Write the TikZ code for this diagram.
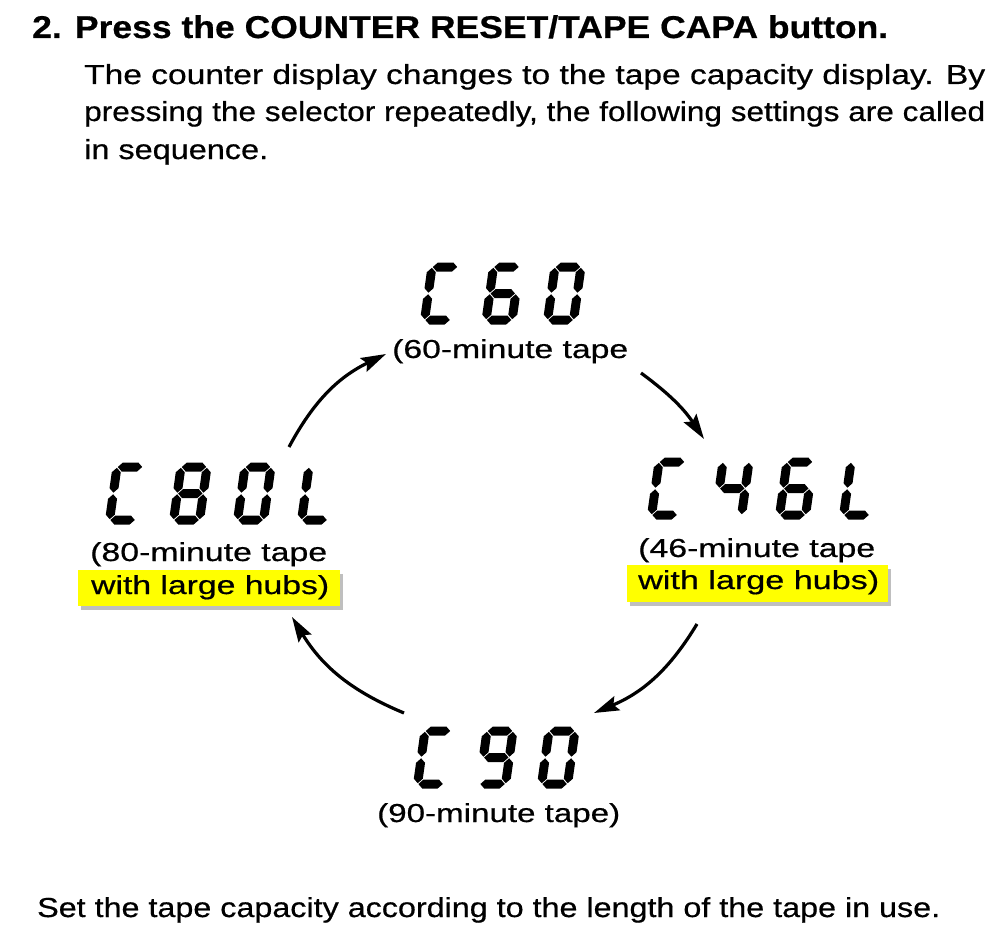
\documentclass[tikz,border=0pt]{standalone}
\usepackage{fontspec}
\setmainfont{Liberation Sans}[FakeBold=0.5]
\usetikzlibrary{arrows.meta,shadows}
\newcommand\hseg[3]{\fill ({#1},{#3}) -- ({#1+4.5},{#3-4.5}) -- ({#2-4.5},{#3-4.5}) -- ({#2},{#3}) -- ({#2-4.5},{#3+4.5}) -- ({#1+4.5},{#3+4.5}) -- cycle;}
\newcommand\vseg[3]{\fill ({#1},{#2}) -- ({#1+4.5},{#2+4.5}) -- ({#1+4.5},{#3-4.5}) -- ({#1},{#3}) -- ({#1-4.5},{#3-4.5}) -- ({#1-4.5},{#2+4.5}) -- cycle;}
\newcommand\sgA{\hseg{0.8}{25.2}{0}}
\newcommand\sgB{\vseg{26}{0.8}{25.7}}
\newcommand\sgC{\vseg{26}{27.3}{52.2}}
\newcommand\sgD{\hseg{0.8}{25.2}{53}}
\newcommand\sgE{\vseg{0}{27.3}{52.2}}
\newcommand\sgF{\vseg{0}{0.8}{25.7}}
\newcommand\sgG{\hseg{0.8}{25.2}{26.5}}
\newcommand\digC{\sgA\sgD\sgE\sgF}
\newcommand\digL{\sgD\sgE\sgF}
\newcommand\digZ{\sgA\sgB\sgC\sgD\sgE\sgF}
\newcommand\digFour{\sgB\sgC\sgF\sgG}
\newcommand\digSix{\sgA\sgC\sgD\sgE\sgF\sgG}
\newcommand\digEight{\sgA\sgB\sgC\sgD\sgE\sgF\sgG}
\newcommand\digNine{\sgA\sgB\sgC\sgD\sgF\sgG}
\newcommand\dgt[3]{\begin{scope}[shift={(#1,#2)},xslant=0.14]#3\end{scope}}
\tikzset{
  body/.style={anchor=base west, inner sep=0pt, font=\fontsize{27.5}{31}\selectfont},
  ttl/.style={anchor=base west, inner sep=0pt, font=\bfseries\fontsize{31.5}{35}\selectfont},
  lbl/.style={anchor=base west, inner sep=0pt, font=\fontsize{26}{30}\selectfont},
  hlbox/.style={anchor=north west, inner sep=0pt, fill={rgb,255:red,255;green,255;blue,0},
     drop shadow={shadow xshift=3pt, shadow yshift=-4pt, fill=black!50}},
  arr/.style={line width=3.2pt, -{Stealth[length=25pt,width=15pt,inset=4pt]}}
}
\begin{document}
\begin{tikzpicture}[x=1pt,y=-1pt]
\fill[white] (0,0) rectangle (1008,928);
\useasboundingbox (0,0) rectangle (1008,928);
% texts
\node[ttl] (title) at (32,38) {\resizebox{856pt}{\height}{2. Press the COUNTER RESET/TAPE CAPA button.}};
\node[body] (l1) at (84,84) {\resizebox{901pt}{\height}{The counter display changes to the tape capacity display. By}};
\node[body] (l2) at (84,121) {\resizebox{901pt}{\height}{pressing the selector repeatedly, the following settings are called}};
\node[body] (l3) at (84,159) {\resizebox{184pt}{\height}{in sequence.}};
\node[body] (foot) at (37,917) {\resizebox{903pt}{\height}{Set the tape capacity according to the length of the tape in use.}};
% displays
\dgt{432}{267}{\digC}\dgt{493.5}{267}{\digSix}\dgt{555}{267}{\digZ}
\dgt{659}{462}{\digC}\dgt{723}{462}{\digFour}\dgt{787}{462}{\digSix}\dgt{851}{462}{\digL}
\dgt{117}{467}{\digC}\dgt{181}{467}{\digEight}\dgt{245}{467}{\digZ}\dgt{309}{467}{\digL}
\dgt{425}{731}{\digC}\dgt{487}{731}{\digNine}\dgt{549}{731}{\digZ}
% highlight boxes
\node[hlbox, minimum width=262pt, minimum height=36pt] (hlL) at (78,570) {};
\node[hlbox, minimum width=261pt, minimum height=37pt] (hlR) at (627,565) {};
% labels
\node[lbl] (t60) at (392,358) {\resizebox{236pt}{\height}{(60-minute tape}};
\node[lbl] (t46) at (638,557) {\resizebox{237pt}{\height}{(46-minute tape}};
\node[lbl] (t46b) at (638,589) {\resizebox{241pt}{\height}{with large hubs)}};
\node[lbl] (t80) at (90,561) {\resizebox{237pt}{\height}{(80-minute tape}};
\node[lbl] (t80b) at (91,594) {\resizebox{238pt}{\height}{with large hubs)}};
\node[lbl] (t90) at (377,822) {\resizebox{243pt}{\height}{(90-minute tape)}};
% arrows
\coordinate (a1s) at (289,447); \coordinate (a1e) at (386,354);
\coordinate (a2s) at (641,373); \coordinate (a2e) at (704,439);
\coordinate (a3s) at (697,624); \coordinate (a3e) at (594,713);
\coordinate (a4s) at (404,713); \coordinate (a4e) at (292,617);
\draw[arr] (a1s) to[bend left=18] (a1e);
\draw[arr] (a2s) to[bend left=10] (a2e);
\draw[arr] (a3s) to[bend left=18] (a3e);
\draw[arr] (a4s) to[bend left=18] (a4e);
\end{tikzpicture}
\end{document}
